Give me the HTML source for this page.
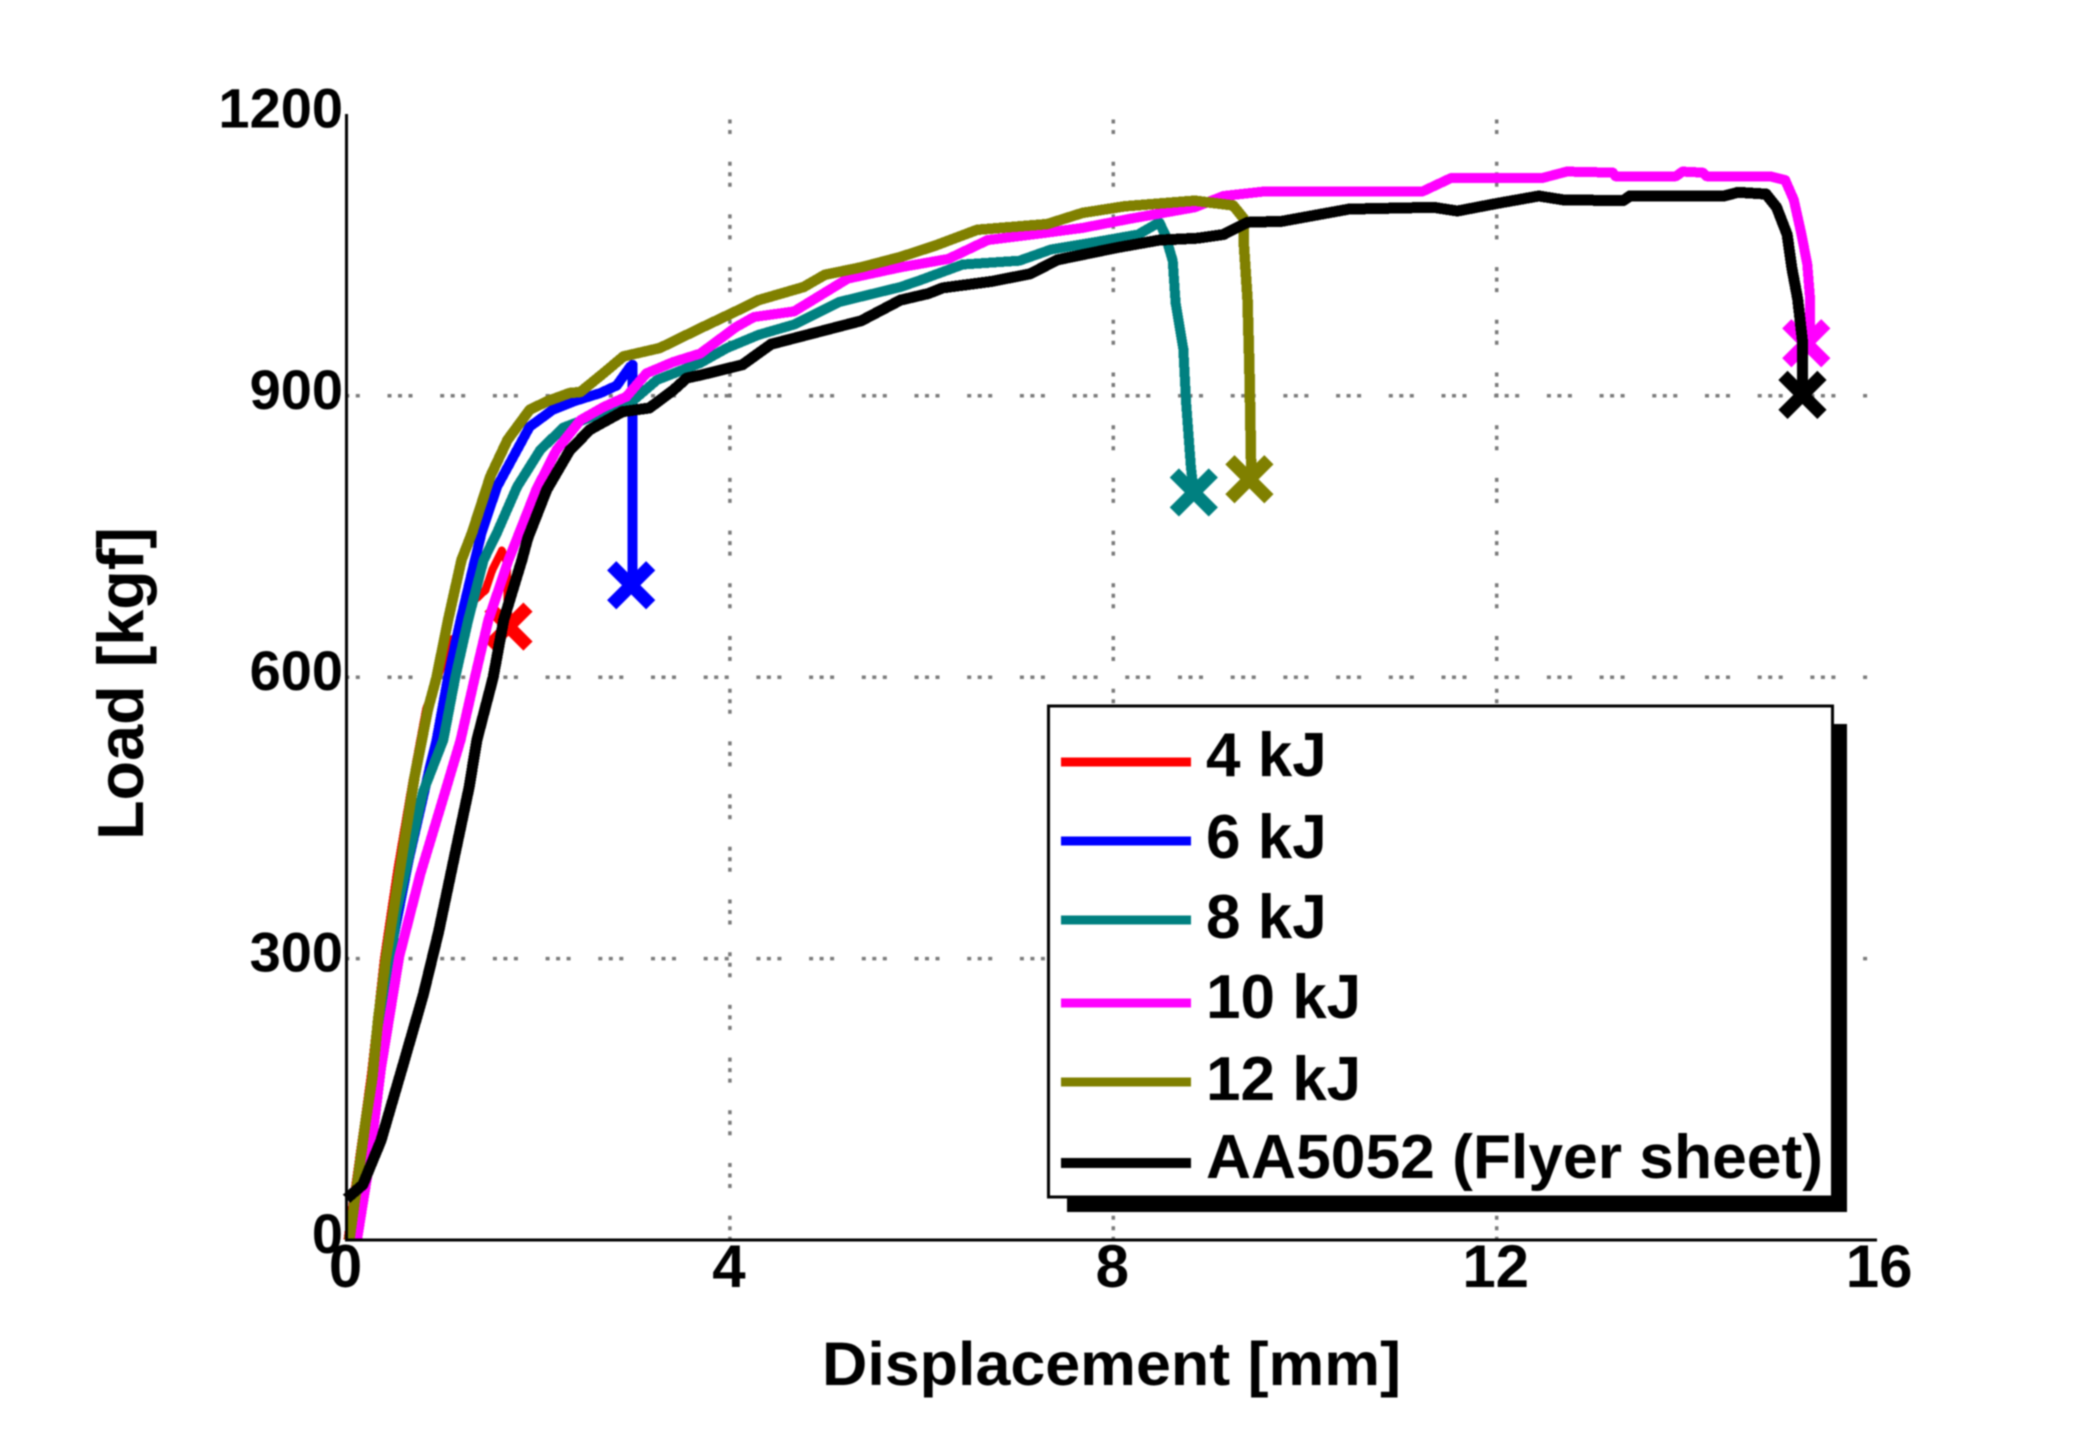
<!DOCTYPE html>
<html>
<head>
<meta charset="utf-8">
<title>Load vs Displacement</title>
<style>
html,body{margin:0;padding:0;background:#fff;}
svg{display:block;filter:blur(0.7px);}
text{font-family:"Liberation Sans",sans-serif;font-weight:bold;fill:#000;}
</style>
</head>
<body>
<svg id="chart" xmlns="http://www.w3.org/2000/svg" width="2085" height="1451" viewBox="0 0 2085 1451">
  <rect x="0" y="0" width="2085" height="1451" fill="#fff"/>
  <g id="grid"></g>
  <g id="series"></g>
  <line x1="346.5" y1="114" x2="346.5" y2="1241" stroke="#000" stroke-width="3"/>
  <line x1="345" y1="1240" x2="1877" y2="1240" stroke="#000" stroke-width="3"/>
  <g id="ticks"></g>
  <text x="822" y="1385" font-size="61" textLength="579" lengthAdjust="spacingAndGlyphs">Displacement [mm]</text>
  <text transform="translate(143,840) rotate(-90)" font-size="65" textLength="313" lengthAdjust="spacingAndGlyphs">Load [kgf]</text>
  <g id="legend">
    <rect x="1067" y="724" width="780" height="488" fill="#000"/>
    <rect x="1048.5" y="706" width="784" height="491" fill="#fff" stroke="#000" stroke-width="3"/>
    <line x1="1061" y1="762" x2="1191" y2="762" stroke="#ff0000" stroke-width="9"/>
    <text x="1206" y="776" font-size="62">4 kJ</text>
    <line x1="1061" y1="841" x2="1191" y2="841" stroke="#0000ff" stroke-width="9"/>
    <text x="1206" y="858" font-size="62">6 kJ</text>
    <line x1="1061" y1="920" x2="1191" y2="920" stroke="#008080" stroke-width="9"/>
    <text x="1206" y="938" font-size="62">8 kJ</text>
    <line x1="1061" y1="1003" x2="1191" y2="1003" stroke="#ff00ff" stroke-width="9"/>
    <text x="1206" y="1018" font-size="62">10 kJ</text>
    <line x1="1061" y1="1082" x2="1191" y2="1082" stroke="#808000" stroke-width="9"/>
    <text x="1206" y="1100" font-size="62">12 kJ</text>
    <line x1="1061" y1="1163" x2="1191" y2="1163" stroke="#000" stroke-width="10"/>
    <text x="1206" y="1178" font-size="62" textLength="617" lengthAdjust="spacingAndGlyphs">AA5052 (Flyer sheet)</text>
  </g>
</svg>
<script>
var xTickValues = [0, 4, 8, 12, 16];
var xTickLabels = ["0", "4", "8", "12", "16"];
var yTickValues = [0, 300, 600, 900, 1200];
var yTickLabels = ["0", "300", "600", "900", "1200"];
var xGridValues = [4, 8, 12];
var yGridValues = [300, 600, 900];

var red4X = [0.01, 0.25, 0.39, 0.53, 0.69, 0.83, 0.95, 1.1, 1.2, 1.26, 1.45, 1.52, 1.62, 1.67, 1.69];
var red4Y = [0, 173, 300, 395, 490, 566, 600, 640, 647, 675, 693, 714, 735, 723, 654];
var red4End = [1.69, 654];

var blue6X = [0.06, 0.3, 0.46, 0.65, 0.87, 0.94, 1.06, 1.19, 1.34, 1.41, 1.57, 1.74, 1.91, 2.15, 2.37, 2.65, 2.82, 2.96, 2.985, 2.985];
var blue6Y = [0, 147, 307, 406, 504, 533, 600, 661, 725, 754, 803, 835, 867, 885, 894, 903, 911, 931, 933, 698];
var blue6End = [2.97, 698];

var teal8X = [0.03, 0.32, 0.52, 0.8, 1.01, 1.135, 1.27, 1.43, 1.57, 1.78, 2.02, 2.26, 2.57, 2.99, 3.24, 3.69, 3.97, 4.3, 4.67, 5.14, 5.78, 5.98, 6.43, 7.02, 7.35, 7.82, 8.26, 8.48, 8.54, 8.62, 8.65, 8.73, 8.76, 8.81, 8.84];
var teal8Y = [0, 165, 349, 478, 533, 600, 661, 725, 754, 803, 842, 866, 878, 895, 917, 935, 951, 965, 976, 1000, 1016, 1023, 1040, 1044, 1056, 1064, 1072, 1085, 1072, 1044, 999, 950, 893, 824, 797];
var teal8End = [8.84, 797];

var magenta10X = [0.11, 0.235, 0.36, 0.55, 0.77, 1, 1.19, 1.34, 1.48, 1.69, 1.78, 1.98, 2.19, 2.44, 2.68, 2.92, 3.13, 3.41, 3.69, 4.06, 4.25, 4.67, 5.23, 5.78, 6.28, 6.69, 7.31, 7.68, 8.19, 8.85, 9.15, 9.59, 11.23, 11.52, 12.47, 12.73, 13.21, 13.24, 13.87, 13.94, 14.15, 14.19, 14.85, 15.01, 15.1, 15.18, 15.24, 15.27, 15.27];
var magenta10Y = [0, 80, 183, 302, 390, 468, 533, 600, 661, 725, 748, 800, 842, 874, 888, 899, 924, 936, 945, 973, 984, 990, 1025, 1037, 1046, 1066, 1074, 1079, 1089, 1101, 1113, 1118, 1118, 1132, 1132, 1139, 1138, 1134, 1134, 1139, 1138, 1134, 1134, 1130, 1109, 1072, 1040, 1003, 958];
var magenta10End = [15.23, 956];

var olive12X = [0.03, 0.11, 0.2, 0.27, 0.33, 0.41, 0.55, 0.71, 0.85, 0.94, 1.06, 1.2, 1.31, 1.5, 1.68, 1.91, 2.09, 2.33, 2.44, 2.68, 2.89, 3.27, 3.69, 4.06, 4.3, 4.77, 4.99, 5.37, 5.78, 6.14, 6.58, 7.31, 7.68, 8.12, 8.85, 9.25, 9.36, 9.36, 9.4, 9.42, 9.44];
var olive12Y = [0, 59, 127, 173, 235, 299, 390, 494, 566, 600, 661, 725, 754, 814, 853, 885, 894, 903, 904, 924, 942, 951, 972, 990, 1002, 1016, 1029, 1037, 1048, 1060, 1077, 1083, 1095, 1102, 1108, 1103, 1089, 1064, 1003, 930, 815];
var olive12End = [9.42, 811];

var blackX = [0, 0.17, 0.36, 0.58, 0.8, 0.96, 1.12, 1.28, 1.36, 1.53, 1.64, 1.83, 1.89, 2.09, 2.33, 2.54, 2.88, 3.16, 3.41, 3.55, 3.69, 4.13, 4.43, 5.37, 5.78, 6.07, 6.22, 6.73, 7.13, 7.42, 8.04, 8.48, 8.88, 9.15, 9.4, 9.76, 10.24, 10.46, 11.34, 11.59, 12, 12.44, 12.69, 13.32, 13.39, 14.37, 14.52, 14.81, 14.92, 15.03, 15.08, 15.14, 15.19, 15.19];
var blackY = [44, 59, 106, 183, 261, 328, 406, 483, 533, 600, 661, 725, 748, 800, 842, 864, 883, 887, 906, 919, 922, 933, 955, 980, 1002, 1009, 1015, 1022, 1030, 1045, 1058, 1066, 1068, 1072, 1085, 1086, 1095, 1099, 1101, 1097, 1105, 1113, 1109, 1108, 1113, 1113, 1117, 1115, 1101, 1072, 1036, 1003, 958, 901];
var blackEnd = [15.19, 901];

var svgNS = "http://www.w3.org/2000/svg";

function xScale(v) { return 346.5 + v * 95.85; }
function yScale(v) { return 1240 - v * 0.938; }

function make(tag, attrs, parent) {
  var el = document.createElementNS(svgNS, tag);
  for (var k in attrs) { el.setAttribute(k, attrs[k]); }
  parent.appendChild(el);
  return el;
}

var gridG = document.getElementById("grid");
var ticksG = document.getElementById("ticks");
var seriesG = document.getElementById("series");

yGridValues.forEach(function (v) {
  var el = make("line", {x1: 346.5, x2: 1870, y1: yScale(v), y2: yScale(v), stroke: "#7a7a7a", "stroke-width": 3.5, "stroke-dasharray": "4 6.5 4 6.5 4 27.7", "stroke-dashoffset": 11.7}, gridG);
  
  
});
xGridValues.forEach(function (v) {
  var el = make("line", {x1: xScale(v), x2: xScale(v), y1: 114.5, y2: 1240, stroke: "#7a7a7a", "stroke-width": 3.5, "stroke-dasharray": "4 6.5 4 6.5 4 27.7", "stroke-dashoffset": 5.5}, gridG);
  
  
});

xTickValues.forEach(function (v, i) {
  var el = make("text", {x: xScale(v) - 1, y: 1287, "font-size": 60, "text-anchor": "middle"}, ticksG);
  el.textContent = xTickLabels[i];
  
  
});
yTickValues.forEach(function (v, i) {
  var el = make("text", {x: 343, y: yScale(v) + 13, "font-size": 56, "text-anchor": "end"}, ticksG);
  el.textContent = yTickLabels[i];
  
  
});

function drawSeries(name, xs, ys, end, color, width) {
  var d = xs.map(function (x, i) {
    return (i ? "L" : "M") + xScale(x).toFixed(1) + " " + yScale(ys[i]).toFixed(1);
  }).join(" ");
  var line = make("path", {d: d, fill: "none", stroke: color, "stroke-width": width, "stroke-linejoin": "round", "shape-rendering": "crispEdges"}, seriesG);
  
  
  var cx = xScale(end[0]);
  var cy = yScale(end[1]);
  var r = 19.5;
  var m = make("path", {d: "M" + (cx - r) + " " + (cy - r) + " L" + (cx + r) + " " + (cy + r) + " M" + (cx - r) + " " + (cy + r) + " L" + (cx + r) + " " + (cy - r), fill: "none", stroke: color, "stroke-width": 13}, seriesG);
  
  
}

drawSeries("series-4kj", red4X, red4Y, red4End, "#ff0000", 8);
drawSeries("series-6kj", blue6X, blue6Y, blue6End, "#0000ff", 10);
drawSeries("series-8kj", teal8X, teal8Y, teal8End, "#008080", 10);
drawSeries("series-10kj", magenta10X, magenta10Y, magenta10End, "#ff00ff", 10);
drawSeries("series-12kj", olive12X, olive12Y, olive12End, "#808000", 10.5);
drawSeries("series-aa5052", blackX, blackY, blackEnd, "#000000", 11);
</script>
</body>
</html>
